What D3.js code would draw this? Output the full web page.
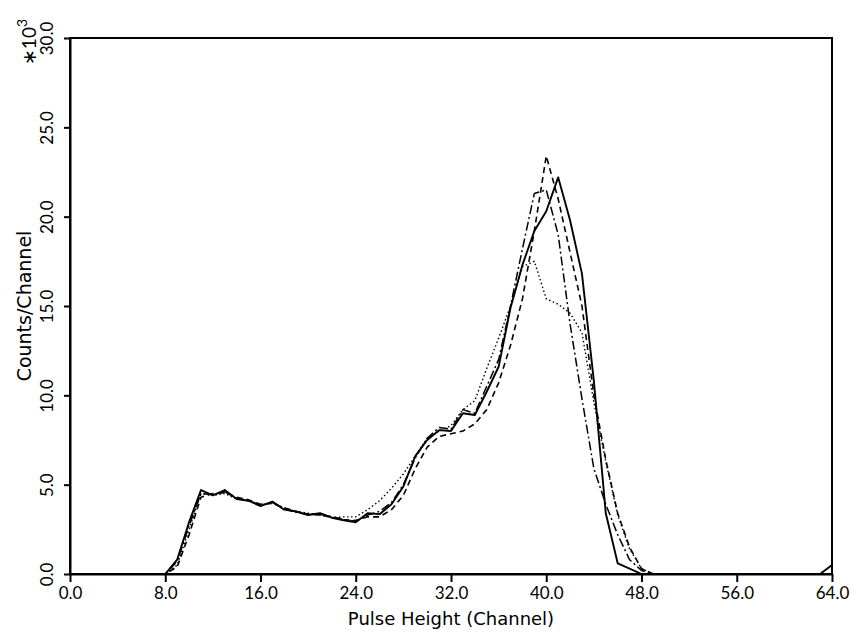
<!DOCTYPE html>
<html>
<head>
<meta charset="utf-8">
<script src="https://cdn.jsdelivr.net/npm/d3@7"></script>
<style>
  body { margin: 0; background: #fff; }
  text { font-family: Lato, "DejaVu Sans", sans-serif; fill: #000; }
</style>
</head>
<body>
<div id="vis"></div>
<script>
// Frame
const FRAME_HEIGHT = 632;
const FRAME_WIDTH = 856;
const MARGINS = {left: 70, right: 24, top: 38, bottom: 58};

const VIS_HEIGHT = FRAME_HEIGHT - MARGINS.top - MARGINS.bottom;
const VIS_WIDTH = FRAME_WIDTH - MARGINS.left - MARGINS.right;

// data: counts per channel (x10^3), channels 0..64
const channels = d3.range(0, 65);

const solid = [0, 0, 0, 0, 0, 0, 0, 0, 0, 0.8, 2.9, 4.7, 4.4, 4.7, 4.2, 4.1,
  3.8, 4.05, 3.6, 3.5, 3.3, 3.4, 3.15, 3.0, 2.9, 3.4, 3.35, 3.9, 4.9, 6.6, 7.5, 8.05,
  8.0, 9.0, 8.9, 10.2, 11.6, 14.9, 17.3, 19.2, 20.3, 22.2, 19.8, 16.8, 10.8, 3.4, 0.6, 0.3,
  0, 0, 0, 0, 0, 0, 0, 0, 0, 0, 0, 0, 0, 0, 0, 0, 0.5];

const dashDot = [0, 0, 0, 0, 0, 0, 0, 0, 0, 0.7, 2.7, 4.5, 4.45, 4.6, 4.25, 4.1,
  3.85, 4.0, 3.65, 3.45, 3.35, 3.35, 3.2, 3.05, 2.95, 3.3, 3.5, 4.0, 5.0, 6.5, 7.6, 8.2,
  8.1, 9.2, 9.0, 10.5, 12.0, 15.0, 18.2, 21.3, 21.5, 19.0, 14.0, 9.8, 5.9, 3.9, 2.2, 0.8,
  0.2, 0, 0, 0, 0, 0, 0, 0, 0, 0, 0, 0, 0, 0, 0, 0, 0];

const dashed = [0, 0, 0, 0, 0, 0, 0, 0, 0, 0.4, 2.2, 4.3, 4.5, 4.55, 4.3, 4.15,
  3.9, 3.95, 3.7, 3.5, 3.35, 3.3, 3.2, 3.05, 3.0, 3.2, 3.2, 3.6, 4.4, 5.9, 7.1, 7.7,
  7.85, 8.0, 8.4, 9.2, 10.7, 12.8, 15.4, 19.2, 23.4, 21.0, 18.0, 15.0, 10.0, 6.4, 3.4, 1.5,
  0.3, 0, 0, 0, 0, 0, 0, 0, 0, 0, 0, 0, 0, 0, 0, 0, 0];

const dotted = [0, 0, 0, 0, 0, 0, 0, 0, 0, 0.5, 2.5, 4.5, 4.4, 4.5, 4.2, 4.1,
  3.9, 4.0, 3.7, 3.5, 3.4, 3.3, 3.15, 3.2, 3.2, 3.6, 4.1, 4.8, 5.6, 6.6, 7.6, 8.0,
  8.3, 9.2, 9.7, 11.5, 13.2, 15.0, 17.2, 17.5, 15.4, 15.1, 14.6, 13.5, 9.6, 6.3, 3.3, 1.4,
  0.3, 0, 0, 0, 0, 0, 0, 0, 0, 0, 0, 0, 0, 0, 0, 0, 0];

const xTicks = [0, 8, 16, 24, 32, 40, 48, 56, 64];
const yTicks = [0, 5, 10, 15, 20, 25, 30];

const series = [
  {values: dotted, dash: "1.5,2.5", width: 1.4},
  {values: dashed, dash: "6,4", width: 1.6},
  {values: dashDot, dash: "9,3,2,3", width: 1.5},
  {values: solid, dash: null, width: 1.9}
];

const FRAME = d3.select("#vis")
                .append("svg")
                  .attr("height", FRAME_HEIGHT)
                  .attr("width", FRAME_WIDTH);

const X_SCALE = d3.scaleLinear()
                  .domain([0, 64])
                  .range([MARGINS.left, MARGINS.left + VIS_WIDTH]);

const Y_SCALE = d3.scaleLinear()
                  .domain([0, 30])
                  .range([MARGINS.top + VIS_HEIGHT, MARGINS.top]);

// curves
const line = d3.line()
               .x((d, i) => X_SCALE(channels[i]))
               .y(d => Y_SCALE(d));

series.forEach(s => {
  FRAME.append("path")
       .datum(s.values)
       .attr("d", line)
       .attr("fill", "none")
       .attr("stroke", "#000")
       .attr("stroke-width", s.width)
       .attr("stroke-dasharray", s.dash)
       .attr("stroke-linejoin", "round");
});

// frame box
FRAME.append("rect")
     .attr("x", X_SCALE(0))
     .attr("y", Y_SCALE(30))
     .attr("width", X_SCALE(64) - X_SCALE(0))
     .attr("height", Y_SCALE(0) - Y_SCALE(30))
     .attr("fill", "none")
     .attr("stroke", "#000")
     .attr("stroke-width", 2);

// x axis
const xAxis = FRAME.append("g")
     .attr("transform", "translate(0," + Y_SCALE(0) + ")")
     .call(d3.axisBottom(X_SCALE).tickValues(xTicks).tickFormat(d3.format(".1f"))
             .tickSize(8).tickSizeOuter(0).tickPadding(5));
xAxis.selectAll("path, line").attr("stroke", "#000").attr("stroke-width", 2);
xAxis.selectAll("text").attr("font-size", "17px").style("font-family", "Lato, sans-serif");

// y axis, rotated labels
const yAxis = FRAME.append("g")
     .attr("transform", "translate(" + X_SCALE(0) + ",0)")
     .call(d3.axisLeft(Y_SCALE).tickValues(yTicks).tickFormat(d3.format(".1f"))
             .tickSize(6).tickSizeOuter(0));
yAxis.selectAll("path, line").attr("stroke", "#000").attr("stroke-width", 2);
yAxis.selectAll("text")
     .attr("x", null).attr("dy", null)
     .attr("text-anchor", "middle")
     .attr("transform", "translate(-17,0) rotate(-90)")
     .attr("font-size", "17px")
     .style("font-family", "Lato, sans-serif");

// multiplier
const mult = FRAME.append("text")
     .attr("transform", "translate(36," + (Y_SCALE(30) + 4) + ") rotate(-90)")
     .attr("text-anchor", "middle")
     .attr("font-size", "19px");
mult.append("tspan").text("\u221710");
mult.append("tspan").attr("dy", -9).attr("font-size", "14px").text("3");

// axis titles
FRAME.append("text")
     .attr("x", X_SCALE(32))
     .attr("y", FRAME_HEIGHT - 7)
     .attr("text-anchor", "middle")
     .attr("font-size", "18px")
     .style("font-family", "'DejaVu Sans', sans-serif")
     .text("Pulse Height (Channel)");

FRAME.append("text")
     .attr("transform", "translate(31," + Y_SCALE(15) + ") rotate(-90)")
     .attr("text-anchor", "middle")
     .attr("font-size", "19px")
     .style("font-family", "'DejaVu Sans', sans-serif")
     .text("Counts/Channel");
</script>
</body>
</html>
